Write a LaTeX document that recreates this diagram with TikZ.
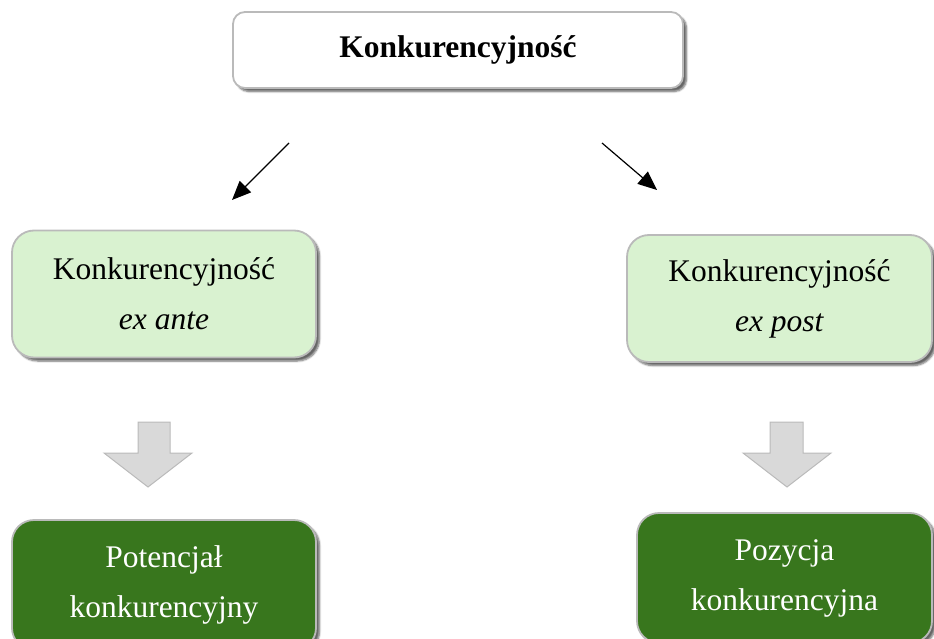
\documentclass[tikz,border=0pt]{standalone}
\usepackage{fontspec}
\setmainfont{Liberation Serif}
\usetikzlibrary{arrows.meta,shadows.blur}
\definecolor{rim}{HTML}{BABABA}
\definecolor{palegreen}{HTML}{D9F2D0}
\definecolor{deepgreen}{HTML}{38761D}
\definecolor{blockgray}{HTML}{D9D9D9}
\tikzset{
  card/.style={draw=rim, line width=1.8pt, rectangle, align=center,
    blur shadow={shadow xshift=3.5pt, shadow yshift=-3.5pt, shadow blur steps=6, shadow opacity=60},
    font=\fontsize{31.5}{50}\selectfont},
  titlecard/.style={card, fill=white, rounded corners=12pt, minimum width=450pt, minimum height=76pt},
  lightcard/.style={card, fill=palegreen, rounded corners=22pt, minimum width=304pt, minimum height=127pt},
  darkcard/.style={card, fill=deepgreen, text=white, rounded corners=22pt, minimum height=130pt},
  thin arrow/.style={line width=1.2pt, -{Triangle[length=19pt,width=16pt]}},
  block arrow/.style={fill=blockgray, draw=rim, line width=1pt, line join=miter}
}
\begin{document}
\begin{tikzpicture}[x=1pt,y=-1pt]
\useasboundingbox (0,0) rectangle (934,639);

% top heading
\node[titlecard] (top) at (458,50) {\textbf{Konkurencyjność}};

% the two kinds of competitiveness
\node[lightcard] (ante) at (164,294) {Konkurencyjność\\\textit{ex ante}};
\node[lightcard, minimum width=305pt] (post) at (779.5,298.5) {Konkurencyjność\\\textit{ex post}};

% their results
\node[darkcard, minimum width=304pt] (pot) at (164,585) {Potencjał\\konkurencyjny};
\node[darkcard, minimum width=295pt] (poz) at (784.5,578) {Pozycja\\konkurencyjna};

% thin arrows below the heading
\coordinate (la) at (289,143);
\coordinate (lb) at (232,200);
\coordinate (ra) at (602,143);
\coordinate (rb) at (657,190);
\draw[thin arrow] (la) -- (lb);
\draw[thin arrow] (ra) -- (rb);

% broad grey down arrows
\draw[block arrow] (138,422) -- (170,422) -- (170,453) -- (192,453) -- (148,487)
  -- (104,453) -- (138,453) -- cycle;
\draw[block arrow] (770,422) -- (803,422) -- (803,453) -- (831,453) -- (787,487)
  -- (743,453) -- (770,453) -- cycle;
\end{tikzpicture}
\end{document}
